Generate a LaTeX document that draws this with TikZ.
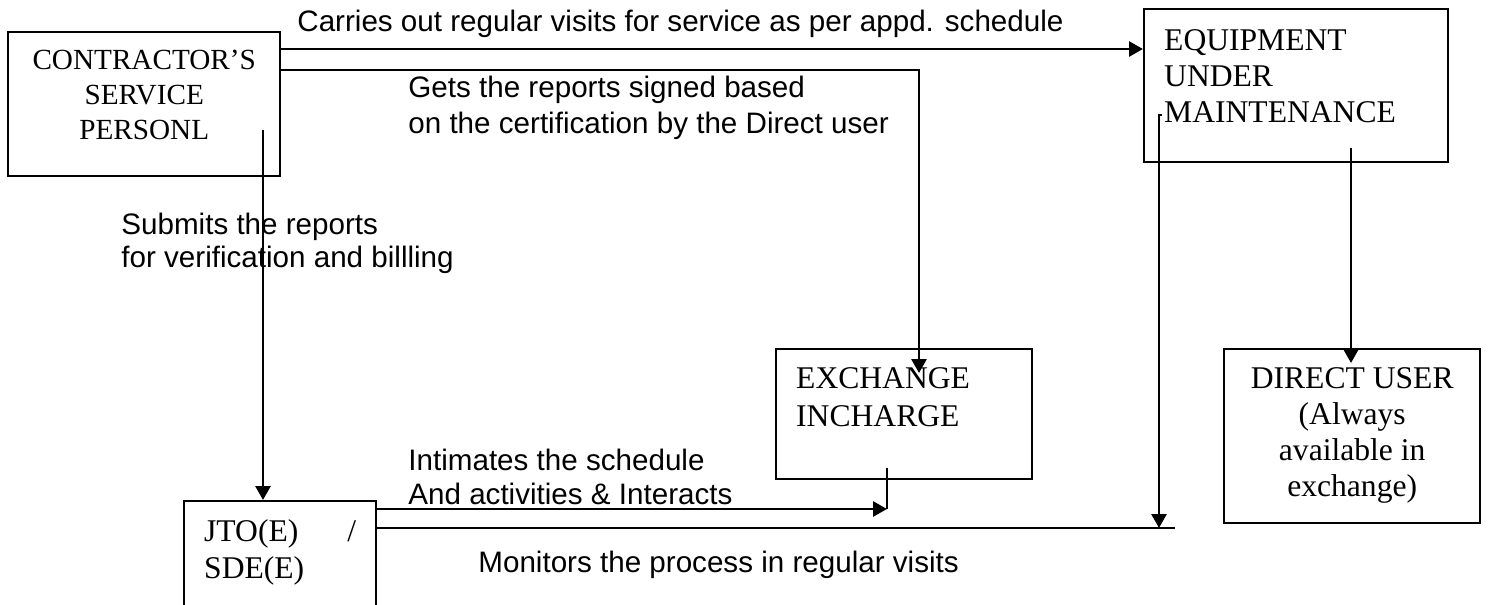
\documentclass[tikz,border=0pt]{standalone}
\usepackage{fontspec}
\setmainfont{Liberation Serif}
\setsansfont{Liberation Sans}
\usetikzlibrary{arrows.meta}

\newlength{\du}
\setlength{\du}{0.5pt}

\tikzset{
  boxnode/.style={draw, line width=2.4\du, inner sep=0pt, anchor=north west, text height=0pt},
  arrowline/.style={line width=2.8\du, -{Triangle[length=7pt,width=7.5pt]}},
  plainline/.style={line width=2.8\du},
  thinline/.style={line width=1.8\du},
  labeltext/.style={font=\sffamily\fontsize{14.8}{17}\selectfont, inner sep=0pt, anchor=base west},
}

\begin{document}
\begin{tikzpicture}[x=\du, y=-\du]
\useasboundingbox (0,0) rectangle (1489,605);
\clip (0,0) rectangle (1489,605);
% boxes
\node[boxnode, minimum width=272\du, minimum height=144\du, text depth=70\du,
  font=\fontsize{14.6}{17.5}\selectfont] (contractor) at (7,31)
  {\begin{tabular}[t]{@{}c@{}}CONTRACTOR’S\\SERVICE\\PERSONL\end{tabular}};
\node[boxnode, minimum width=304\du, minimum height=153\du, text depth=71\du,
  font=\fontsize{15.8}{18}\selectfont] (equipment) at (1143,8)
  {\parbox[t]{264\du}{\raggedright EQUIPMENT\\UNDER\\MAINTENANCE}};
\node[boxnode, minimum width=256\du, minimum height=130\du, text depth=52\du,
  font=\fontsize{15.8}{19}\selectfont] (exchange) at (775,348)
  {\parbox[t]{216\du}{\raggedright EXCHANGE\\INCHARGE}};
\node[boxnode, minimum width=256\du, minimum height=174\du, text depth=96\du,
  font=\fontsize{15.8}{18}\selectfont] (user) at (1223,348)
  {\begin{tabular}[t]{@{}c@{}}DIRECT USER\\(Always\\available in\\exchange)\end{tabular}};
\node[boxnode, minimum width=192\du, minimum height=150\du, text depth=70\du,
  font=\fontsize{15.8}{18.5}\selectfont] (jto) at (183,500)
  {\parbox[t]{152\du}{JTO(E)\hfill/\\SDE(E)}};
% labels
\node[labeltext] (carrylabel) at (297,32) {Carries out regular visits for service as per appd. schedule};
\node[labeltext] (signlabela) at (408,97) {Gets the reports signed based};
\node[labeltext] (signlabelb) at (408,133) {on the certification by the Direct user};
\node[labeltext] (submitlabela) at (121,234) {Submits the reports};
\node[labeltext] (submitlabelb) at (121,267) {for verification and billling};
\node[labeltext] (intimatelabela) at (408,470) {Intimates the schedule};
\node[labeltext] (intimatelabelb) at (408,504) {And activities \& Interacts};
\node[labeltext] (monitorlabel) at (478,572) {Monitors the process in regular visits};
% connector ends
\coordinate (carrylevel) at (0,49);
\coordinate (signlevel) at (0,70);
\coordinate (signtip) at (919,373);
\coordinate (submitfoot) at (263,130);
\coordinate (intimatetip) at (887,509);
\coordinate (exchangefoot) at (887,468);
\coordinate (monitorend) at (1175,528);
\coordinate (equipfoot) at (1162,115);
\coordinate (equiptip) at (1159,528);
\coordinate (userfoot) at (1351,148);
\coordinate (usertip) at (1351,363);
% connectors
\draw[arrowline] (contractor.east |- carrylevel) -- (equipment.west |- carrylevel);
\draw[arrowline] (contractor.east |- signlevel) -| (signtip);
\draw[arrowline] (submitfoot) -- (submitfoot |- jto.north);
\draw[arrowline] (jto.east |- intimatetip) -- (intimatetip);
\draw[plainline] (exchangefoot) -- (intimatetip);
\draw[thinline] (jto.east |- monitorend) -- (monitorend);
\draw[arrowline] (equipfoot) -| (equiptip);
\draw[arrowline] (userfoot) -- (usertip);
\end{tikzpicture}
\end{document}
